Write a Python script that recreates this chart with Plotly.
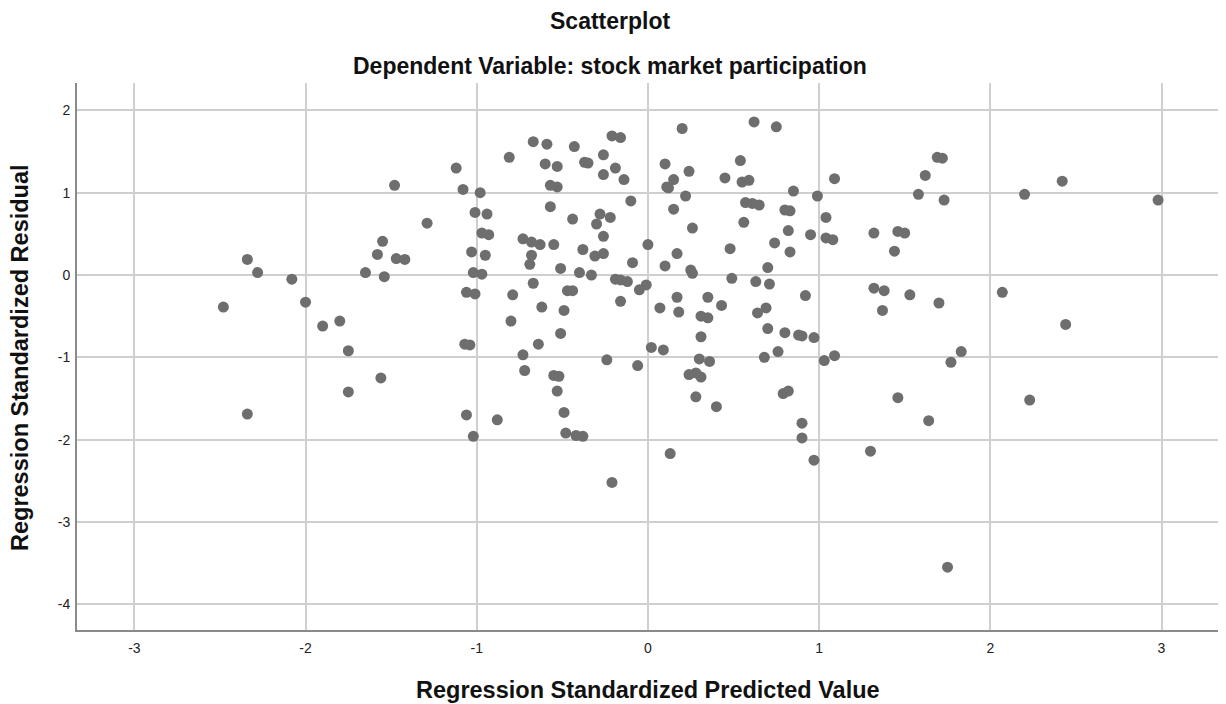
import plotly.graph_objects as go

# Standardized predicted values (x) and standardized residuals (y)
pred_std = [
    -1.12, -1.48, -1.08, -1.01, -1.29, -1.55, -1.58, -2.34, -1.47, -1.42,
    -1.03, -2.28, -1.65, -1.02, -2.08, -1.54, -1.06, -1.01, -2.48, -2.00,
    -1.90, -1.80, -1.75, -1.07, -1.04, -1.56, -1.75, -2.34, -1.06, -1.02,
    -0.81, -0.67, -0.59, -0.43, -0.21, -0.16, -0.26, -0.60, -0.53, -0.37,
    -0.35, -0.19, -0.26, -0.14, -0.57, -0.53, -0.98, -0.10, -0.94, -0.57,
    -0.44, -0.28, -0.22, -0.30, -0.97, -0.93, -0.26, -0.73, -0.68, -0.63,
    -0.55, 0.00, -0.95, -0.68, -0.69, -0.38, -0.31, -0.26, -0.09, -0.51,
    -0.40, -0.33, -0.97, -0.67, -0.19, -0.16, -0.12, -0.01, -0.79, -0.47,
    -0.44, -0.62, -0.49, -0.80, -0.16, -0.05, -0.51, -0.64, -0.73, -0.24,
    -0.06, 0.02, -0.72, -0.55, -0.52, -0.53, -0.88, -0.49, -0.48, -0.42,
    -0.38, -0.21,
    0.20, 0.62, 0.75, 0.10, 0.24, 0.15, 0.11, 0.12, 0.54, 0.45,
    0.55, 0.59, 0.22, 0.85, 0.99, 1.09, 0.15, 0.57, 0.61, 0.65,
    0.56, 0.26, 0.80, 0.83, 0.82, 0.95, 1.04, 1.04, 1.08, 0.17,
    0.48, 0.74, 0.83, 0.10, 0.25, 0.26, 0.70, 0.49, 0.63, 0.71,
    0.17, 0.35, 0.07, 0.18, 0.43, 0.31, 0.35, 0.92, 0.64, 0.69,
    0.70, 0.80, 0.88, 0.90, 0.97, 0.31, 0.09, 0.30, 0.36, 0.68,
    0.76, 1.03, 1.09, 0.24, 0.28, 0.31, 0.79, 0.82, 0.28, 0.40,
    0.90, 0.90, 0.13, 0.97,
    1.69, 1.72, 1.62, 1.58, 1.73, 2.20, 2.42, 2.98, 1.32, 1.46,
    1.50, 1.44, 1.32, 1.38, 1.37, 1.53, 1.70, 2.07, 2.44, 1.83,
    1.77, 1.46, 1.64, 1.30, 2.23, 1.75,
]

resid_std = [
    1.30, 1.09, 1.04, 0.76, 0.63, 0.41, 0.25, 0.19, 0.20, 0.19,
    0.28, 0.03, 0.03, 0.03, -0.05, -0.02, -0.21, -0.23, -0.39, -0.33,
    -0.62, -0.56, -0.92, -0.84, -0.85, -1.25, -1.42, -1.69, -1.70, -1.96,
    1.43, 1.62, 1.59, 1.56, 1.69, 1.67, 1.46, 1.35, 1.32, 1.37,
    1.36, 1.30, 1.22, 1.16, 1.09, 1.07, 1.00, 0.90, 0.74, 0.83,
    0.68, 0.74, 0.70, 0.62, 0.51, 0.49, 0.47, 0.44, 0.40, 0.37,
    0.37, 0.37, 0.24, 0.24, 0.13, 0.31, 0.23, 0.26, 0.15, 0.08,
    0.03, 0.00, 0.01, -0.10, -0.05, -0.06, -0.08, -0.12, -0.24, -0.19,
    -0.19, -0.39, -0.43, -0.56, -0.32, -0.18, -0.71, -0.84, -0.97, -1.03,
    -1.10, -0.88, -1.16, -1.22, -1.23, -1.41, -1.76, -1.67, -1.92, -1.95,
    -1.96, -2.52,
    1.78, 1.86, 1.80, 1.35, 1.26, 1.16, 1.07, 1.06, 1.39, 1.18,
    1.13, 1.15, 0.96, 1.02, 0.96, 1.17, 0.80, 0.88, 0.87, 0.85,
    0.64, 0.57, 0.79, 0.78, 0.54, 0.49, 0.70, 0.45, 0.43, 0.26,
    0.32, 0.39, 0.28, 0.11, 0.06, 0.02, 0.09, -0.04, -0.08, -0.11,
    -0.27, -0.27, -0.40, -0.45, -0.37, -0.50, -0.52, -0.25, -0.46, -0.40,
    -0.65, -0.70, -0.73, -0.74, -0.76, -0.75, -0.91, -1.02, -1.05, -1.00,
    -0.93, -1.04, -0.98, -1.21, -1.19, -1.24, -1.44, -1.41, -1.48, -1.60,
    -1.80, -1.98, -2.17, -2.25,
    1.43, 1.42, 1.21, 0.98, 0.91, 0.98, 1.14, 0.91, 0.51, 0.53,
    0.51, 0.29, -0.16, -0.19, -0.43, -0.24, -0.34, -0.21, -0.60, -0.93,
    -1.06, -1.49, -1.77, -2.14, -1.52, -3.55,
]

x_ticks = [-3, -2, -1, 0, 1, 2, 3]
x_tick_labels = ["-3", "-2", "-1", "0", "1", "2", "3"]
y_ticks = [-4, -3, -2, -1, 0, 1, 2]
y_tick_labels = ["-4", "-3", "-2", "-1", "0", "1", "2"]

chart_title = "Scatterplot"
chart_subtitle = "Dependent Variable: stock market participation"
x_title = "Regression Standardized Predicted Value"
y_title = "Regression Standardized Residual"

FONT = "Liberation Sans, Arial, sans-serif"
GRID = "#cfcfcf"
AXIS = "#8a8a8a"

fig = go.Figure(
    go.Scatter(
        x=pred_std,
        y=resid_std,
        mode="markers",
        marker=dict(size=11, color="#6e6e6e", line=dict(width=0)),
        hoverinfo="x+y",
    )
)

axis_common = dict(
    showgrid=True,
    gridcolor=GRID,
    gridwidth=1.5,
    zeroline=False,
    showline=True,
    linecolor=AXIS,
    linewidth=2,
    ticks="",
    tickfont=dict(family=FONT, size=14, color="#222222"),
)

fig.update_xaxes(range=[-3.335, 3.33], tickvals=x_ticks, ticktext=x_tick_labels,
                 ticklabelstandoff=4, **axis_common)
fig.update_yaxes(range=[-4.313, 2.333], tickvals=y_ticks, ticktext=y_tick_labels,
                 ticklabelstandoff=2, **axis_common)

bold = dict(family=FONT, size=23, color="#111111", weight="bold")
bold_axis = dict(family=FONT, size=23.5, color="#111111", weight="bold")

fig.update_layout(
    width=1226,
    height=704,
    margin=dict(l=77, r=8, t=83, b=74),
    paper_bgcolor="white",
    plot_bgcolor="white",
    showlegend=False,
    annotations=[
        dict(text=chart_title, xref="paper", yref="paper", x=0.467, y=1.113,
             xanchor="center", yanchor="middle", showarrow=False, font=bold),
        dict(text=chart_subtitle, xref="paper", yref="paper", x=0.467, y=1.031,
             xanchor="center", yanchor="middle", showarrow=False, font=bold),
        dict(text=x_title, xref="paper", yref="paper", x=0.5, y=-0.11,
             xanchor="center", yanchor="middle", showarrow=False, font=bold_axis),
        dict(text=y_title, xref="paper", yref="paper", x=-0.05, y=0.499,
             xanchor="center", yanchor="middle", textangle=-90,
             showarrow=False, font=bold_axis),
    ],
)

fig.write_html("out.html")
